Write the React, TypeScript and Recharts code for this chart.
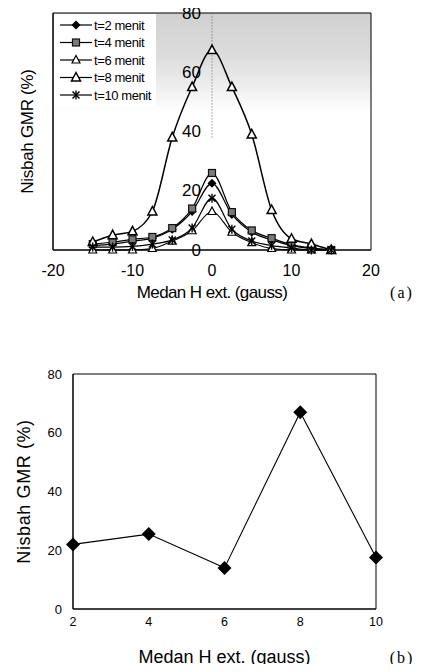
import React from 'react';
import { LineChart, Line, XAxis, YAxis, ReferenceArea, ReferenceLine, Legend } from 'recharts';

// ---------- Data (chart a) ----------
const fieldA = [-15, -12.5, -10, -7.5, -5, -2.5, 0, 2.5, 5, 7.5, 10, 12.5, 15];
const t2 = [1.5, 2, 3, 4, 7, 13, 22.5, 12, 6, 3.4, 1.5, 0.5, 0];
const t4 = [2, 2.7, 3.6, 4.4, 7.4, 14, 26, 12.8, 6.6, 4, 1.8, 0.7, 0];
const t6 = [0, 0, 0, 0.5, 3, 6.5, 13, 6, 2.5, 0.5, 0, 0, 0];
const t8 = [2.7, 5, 6.3, 13, 38, 55, 67.5, 55, 39, 13.5, 3.8, 2, 0];
const t10 = [1, 1, 1.2, 2, 3.4, 7.4, 17.5, 7, 3, 1.5, 0.7, 0, 0];
const seriesNamesA = ['t=2 menit', 't=4 menit', 't=6 menit', 't=8 menit', 't=10 menit'];
const xTicksA = [-20, -10, 0, 10, 20];
const yTicks = [0, 20, 40, 60, 80];

// ---------- Data (chart b) ----------
const timeB = [2, 4, 6, 8, 10];
const ratioB = [22, 25.5, 14, 67, 17.5];
const xTicksB = [2, 4, 6, 8, 10];

const xLabel = 'Medan H ext. (gauss)';
const yLabel = 'Nisbah GMR (%)';

const seriesA = [
  { key: 't2', name: seriesNamesA[0], values: t2, marker: 'diamond', width: 1.2 },
  { key: 't4', name: seriesNamesA[1], values: t4, marker: 'square', width: 1.2 },
  { key: 't6', name: seriesNamesA[2], values: t6, marker: 'tri', width: 1.1 },
  { key: 't8', name: seriesNamesA[3], values: t8, marker: 'tri8', width: 1.5 },
  { key: 't10', name: seriesNamesA[4], values: t10, marker: 'star', width: 1.2 },
];

const dataA = fieldA.map((h, i) => {
  const row: any = { h };
  seriesA.forEach((s) => (row[s.key] = s.values[i]));
  return row;
});
const dataB = timeB.map((t, i) => ({ t, v: ratioB[i] }));

const FONT = '"Liberation Sans", Arial, sans-serif';
const SERIF = '"Liberation Serif", "Times New Roman", serif';

function Marker({ kind, cx, cy }: any) {
  if (cx == null || cy == null || isNaN(cx) || isNaN(cy)) return null;
  switch (kind) {
    case 'diamond': {
      const r = 4.5;
      return <polygon points={`${cx},${cy - r} ${cx + r},${cy} ${cx},${cy + r} ${cx - r},${cy}`} fill="#000" />;
    }
    case 'bigdiamond': {
      const r = 7;
      return <polygon points={`${cx},${cy - r} ${cx + r},${cy} ${cx},${cy + r} ${cx - r},${cy}`} fill="#000" />;
    }
    case 'square':
      return <rect x={cx - 3.5} y={cy - 3.5} width={7} height={7} fill="#7a7a7a" stroke="#111" strokeWidth={1.2} />;
    case 'tri':
      return (
        <polygon
          points={`${cx},${cy - 4.5} ${cx + 4},${cy + 3} ${cx - 4},${cy + 3}`}
          fill="#fff"
          stroke="#000"
          strokeWidth={1.2}
        />
      );
    case 'tri8':
      return (
        <polygon
          points={`${cx},${cy - 5} ${cx + 4.5},${cy + 3.5} ${cx - 4.5},${cy + 3.5}`}
          fill="#fff"
          stroke="#000"
          strokeWidth={1.5}
        />
      );
    case 'star':
      return (
        <g stroke="#000" strokeWidth={1.4}>
          <line x1={cx - 3.5} y1={cy - 3.5} x2={cx + 3.5} y2={cy + 3.5} />
          <line x1={cx + 3.5} y1={cy - 3.5} x2={cx - 3.5} y2={cy + 3.5} />
          <line x1={cx} y1={cy - 4.5} x2={cx} y2={cy + 4.5} />
        </g>
      );
    default:
      return null;
  }
}

const renderLegendA = (props: any) => {
  const payload = props.payload || [];
  return (
    <svg width={102} height={93} style={{ display: 'block', background: '#fff' }}>
      <rect x={0} y={0} width={102} height={93} fill="#fff" />
      {seriesA.map((s, i) => {
        const entry = payload.find((e: any) => e.dataKey === s.key);
        const y = 11 + i * 17.5;
        return (
          <g key={s.key}>
            <line x1={6} x2={38} y1={y} y2={y} stroke="#000" strokeWidth={1.2} />
            <Marker kind={s.marker} cx={22} cy={y} />
            <text x={40} y={y + 4.5} fontSize={13} fontFamily={FONT} letterSpacing={-0.4} fill="#000">
              {entry ? entry.value : s.name}
            </text>
          </g>
        );
      })}
    </svg>
  );
};

const YTickA = (props: any) => {
  const { y, payload } = props;
  return (
    <text x={193} y={y} textAnchor="end" dominantBaseline="central" fontSize={17} fontFamily={FONT} fill="#000">
      {payload.value}
    </text>
  );
};

const YLabel = (cx: number, fs: number, ls: number) => (props: any) => {
  const vb = props.viewBox || {};
  const cy = vb.y + vb.height / 2;
  return (
    <text
      x={cx}
      y={cy}
      transform={`rotate(-90 ${cx} ${cy})`}
      textAnchor="middle"
      dominantBaseline="central"
      fontSize={fs}
      fontFamily={FONT}
      letterSpacing={ls}
      fill="#000"
    >
      {yLabel}
    </text>
  );
};

const XLabel = (tag: string, dy: number, fs: number, ls: number) => (props: any) => {
  const vb = props.viewBox || {};
  const cy = vb.y + dy;
  return (
    <g>
      <text
        x={vb.x + vb.width / 2}
        y={cy}
        textAnchor="middle"
        dominantBaseline="central"
        fontSize={fs}
        fontFamily={FONT}
        letterSpacing={ls}
        fill="#000"
      >
        {xLabel}
      </text>
      <text x={394} y={cy} textAnchor="middle" dominantBaseline="central" fontSize={16} fontFamily={SERIF} letterSpacing={2} fill="#000">
        {tag}
      </text>
    </g>
  );
};

function ChartA() {
  return (
    <LineChart width={410} height={320} data={dataA} margin={{ top: 13, right: 47, bottom: 0, left: 0 }}>
      <defs>
        <linearGradient id="stipA" x1="0" y1="0" x2="0" y2="1">
          <stop offset="0%" stopColor="#d0d0d0" />
          <stop offset="18%" stopColor="#dcdcdc" />
          <stop offset="32%" stopColor="#efefef" />
          <stop offset="42%" stopColor="#ffffff" />
          <stop offset="100%" stopColor="#ffffff" />
        </linearGradient>
      </defs>
      <ReferenceArea x1={-20} x2={20} y1={0} y2={80} fill="url(#stipA)" fillOpacity={1} stroke="none" ifOverflow="visible" />
      <XAxis
        dataKey="h"
        type="number"
        domain={[-20, 20]}
        ticks={xTicksA}
        height={70}
        axisLine={{ stroke: '#000', strokeWidth: 1 }}
        tickLine={false}
        tickSize={0}
        tickMargin={15}
        tick={{ fontSize: 16, fontFamily: FONT, fill: '#000' }}
        label={{ content: XLabel('(a)', 42, 17, -0.6) } as any}
      />
      <YAxis
        type="number"
        domain={[0, 80]}
        ticks={yTicks}
        width={45}
        axisLine={{ stroke: '#000', strokeWidth: 1 }}
        tickLine={false}
        tick={<YTickA />}
        label={{ content: YLabel(19, 17, -0.3) } as any}
      />
      <ReferenceLine
        segment={[{ x: 0, y: 38 }, { x: 0, y: 80 }]}
        stroke="#666"
        strokeDasharray="1 2"
        strokeWidth={1}
        ifOverflow="visible"
      />
      {seriesA.map((s) => (
        <Line
          key={s.key}
          dataKey={s.key}
          name={s.name}
          type="monotone"
          stroke="#000"
          strokeWidth={s.width}
          isAnimationActive={false}
          dot={(p: any) => <Marker key={`${s.key}-${p.index}`} kind={s.marker} cx={p.cx} cy={p.cy} />}
          activeDot={false}
        />
      ))}
      <ReferenceArea x1={-20} x2={20} y1={0} y2={80} fill="none" stroke="#000" strokeWidth={1} ifOverflow="visible" />
      <Legend
        layout="horizontal"
        align="center"
        verticalAlign="middle"
        content={renderLegendA}
        wrapperStyle={{ left: 46, top: 14, width: 102, height: 93, zIndex: 5 }}
      />
    </LineChart>
  );
}

function ChartB() {
  return (
    <LineChart width={410} height={352} data={dataB} margin={{ top: 54, right: 42, bottom: 0, left: 0 }}>
      <XAxis
        dataKey="t"
        type="number"
        domain={[2, 10]}
        ticks={xTicksB}
        height={63}
        axisLine={{ stroke: '#000', strokeWidth: 1 }}
        tickLine={false}
        tickSize={0}
        tickMargin={8}
        tick={{ fontSize: 12.5, fontFamily: FONT, fill: '#000' }}
        label={{ content: XLabel('(b)', 48, 18, 0) } as any}
      />
      <YAxis
        type="number"
        domain={[0, 80]}
        ticks={yTicks}
        width={65}
        axisLine={{ stroke: '#000', strokeWidth: 1 }}
        tickLine={false}
        tickSize={0}
        tickMargin={11}
        tick={{ fontSize: 13, fontFamily: FONT, fill: '#000' }}
        label={{ content: YLabel(16, 18, 0.6) } as any}
      />
      <ReferenceArea x1={2} x2={10} y1={0} y2={80} fill="none" stroke="#000" strokeWidth={1} ifOverflow="visible" />
      <Line
        dataKey="v"
        type="linear"
        stroke="#000"
        strokeWidth={1.1}
        isAnimationActive={false}
        dot={(p: any) => <Marker key={`b-${p.index}`} kind="bigdiamond" cx={p.cx} cy={p.cy} />}
        activeDot={false}
      />
    </LineChart>
  );
}

export default function App() {
  return (
    <div style={{ width: 410, background: '#fff', marginTop: -8, marginBottom: -8 }}>
      <ChartA />
      <ChartB />
    </div>
  );
}
